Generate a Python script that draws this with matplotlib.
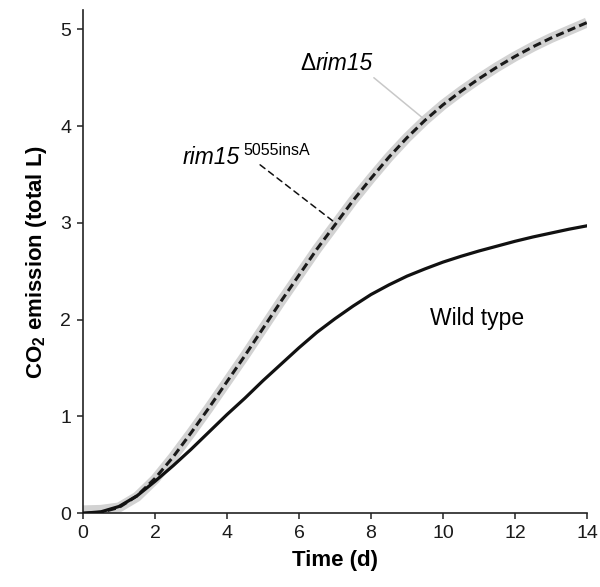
import matplotlib
matplotlib.use("Agg")
import matplotlib.pyplot as plt

# values (days, total L of CO2)
days = [0, 0.5, 1, 1.5, 2, 2.5, 3, 3.5, 4, 4.5, 5, 5.5, 6, 6.5, 7, 7.5, 8, 8.5,
        9, 9.5, 10, 10.5, 11, 11.5, 12, 12.5, 13, 13.5, 14]
wild_type = [0, 0.015, 0.07, 0.18, 0.33, 0.49, 0.66, 0.84, 1.02, 1.19, 1.37, 1.54,
             1.71, 1.87, 2.01, 2.14, 2.26, 2.36, 2.45, 2.525, 2.595, 2.655, 2.71,
             2.76, 2.81, 2.855, 2.895, 2.935, 2.97]
rim15_ins = [0, 0.01, 0.06, 0.18, 0.36, 0.58, 0.83, 1.09, 1.36, 1.63, 1.91, 2.19,
             2.46, 2.73, 2.98, 3.23, 3.46, 3.68, 3.88, 4.06, 4.22, 4.36, 4.49,
             4.61, 4.72, 4.82, 4.91, 4.99, 5.07]
delta_rim15 = [0.03, 0.035, 0.06, 0.17, 0.35, 0.58, 0.83, 1.09, 1.36, 1.63, 1.91,
               2.19, 2.46, 2.73, 2.98, 3.23, 3.46, 3.68, 3.88, 4.06, 4.22, 4.36,
               4.49, 4.61, 4.72, 4.82, 4.91, 4.99, 5.07]

x_ticks = [0, 2, 4, 6, 8, 10, 12, 14]
y_ticks = [0, 1, 2, 3, 4, 5]

plt.rcParams["font.family"] = ["Liberation Sans", "DejaVu Sans"]
plt.rcParams["mathtext.fontset"] = "custom"
plt.rcParams["mathtext.rm"] = "Liberation Sans"
plt.rcParams["mathtext.bf"] = "Liberation Sans:bold"

fig = plt.figure(figsize=(6, 5.87), dpi=100)
ax = fig.add_axes([0.1383, 0.1256, 0.84, 0.8574])

ax.plot(days, delta_rim15, color="#d2d2d2", lw=7.2, solid_capstyle="butt",
        solid_joinstyle="round", zorder=1)
ax.plot(days, rim15_ins, color="#1a1a1a", lw=2.2, dashes=(2.7, 1.4), zorder=2)
ax.plot(days, wild_type, color="#111111", lw=2.3, solid_joinstyle="round", zorder=3)

ax.set_xlim(0, 14)
ax.set_ylim(0, 5.2)
ax.set_xticks(x_ticks)
ax.set_yticks(y_ticks)
ax.spines["top"].set_visible(False)
ax.spines["right"].set_visible(False)
for s in ("left", "bottom"):
    ax.spines[s].set_linewidth(1.2)
    ax.spines[s].set_color("#222222")
ax.tick_params(direction="out", length=4.5, width=1.1, labelsize=14,
               colors="#222222", labelcolor="#1a1a1a", pad=4)

ax.set_xlabel("Time (d)", fontsize=16, fontweight="bold", labelpad=6)
ax.set_ylabel(r"CO$_{\mathbf{2}}$ emission (total L)", fontsize=16,
              fontweight="bold", labelpad=8)

# label for the deletion strain: upright delta, italic gene name
t_delta = ax.text(6.03, 4.58, "\u0394", fontsize=16.5, ha="left", va="baseline")
ax.annotate("rim15", xy=(1, 0), xycoords=t_delta, fontsize=16.5,
            fontstyle="italic", ha="left", va="bottom")
ax.annotate("", xy=(9.45, 4.08), xytext=(8.08, 4.50),
            arrowprops=dict(arrowstyle="-", color="#c8c8c8", lw=1.1,
                            shrinkA=0, shrinkB=0))

# label for the insertion allele with superscript
t_ins = ax.text(2.78, 3.61, "rim15", fontsize=16.5, fontstyle="italic",
                ha="left", va="baseline")
ax.annotate("5055insA", xy=(1, 1), xycoords=t_ins, xytext=(2, 2),
            textcoords="offset points", fontsize=11.5, ha="left", va="top")
ax.annotate("", xy=(6.94, 3.02), xytext=(4.92, 3.60),
            arrowprops=dict(arrowstyle="-", color="#111111", lw=1.1,
                            linestyle=(0, (4, 3)), shrinkA=0, shrinkB=0))

ax.text(9.64, 1.95, "Wild type", fontsize=16.5, ha="left", va="baseline")

fig.savefig("out.png", dpi=100)
